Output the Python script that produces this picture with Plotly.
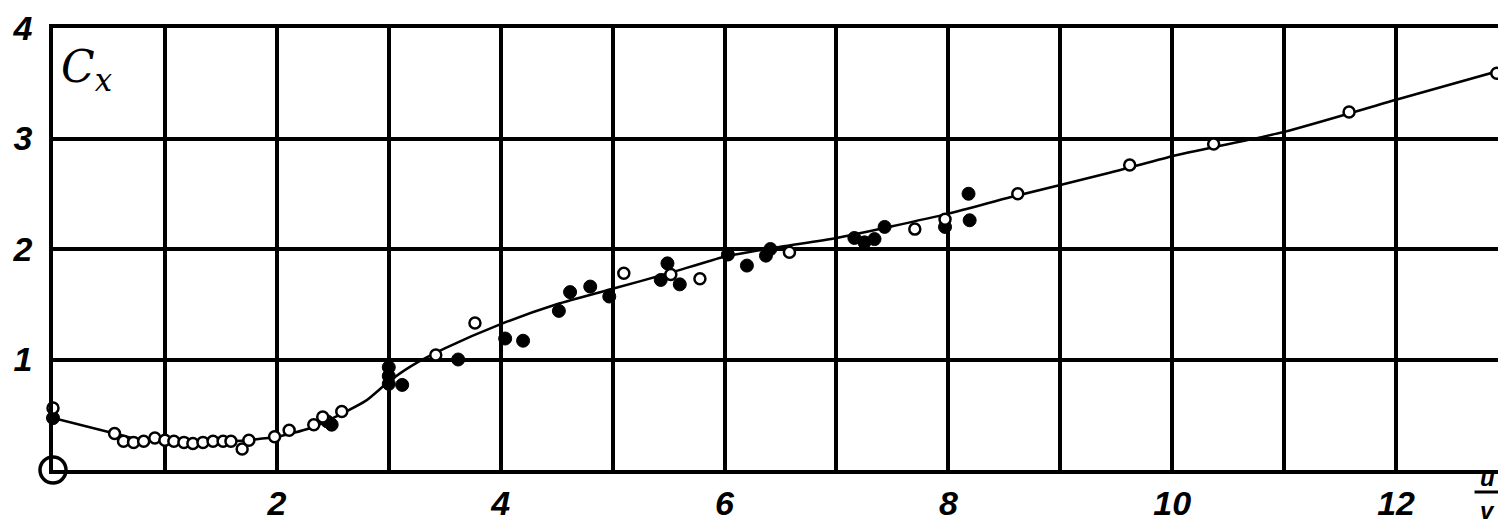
import plotly.graph_objects as go

# ---- data ----
open_x = [0.0, 0.55, 0.63, 0.72, 0.81, 0.91, 1.0, 1.08, 1.17, 1.25, 1.34, 1.43, 1.52, 1.59, 1.69, 1.75,
          1.98, 2.11, 2.33, 2.41, 2.58, 3.42, 3.77, 5.1, 5.52, 5.78, 6.58, 7.7, 7.97, 8.62, 9.62,
          10.37, 11.58, 12.9]
open_y = [0.56, 0.33, 0.26, 0.25, 0.26, 0.29, 0.27, 0.26, 0.25, 0.24, 0.25, 0.26, 0.26, 0.26, 0.19, 0.27,
          0.30, 0.36, 0.41, 0.48, 0.53, 1.04, 1.33, 1.78, 1.77, 1.73, 1.97, 2.18, 2.27, 2.50, 2.76,
          2.95, 3.24, 3.59]

filled_x = [0.0, 2.45, 2.49, 3.0, 3.0, 3.0, 3.12, 3.62, 4.04, 4.2, 4.52, 4.62, 4.8, 4.97,
            5.43, 5.49, 5.6, 6.03, 6.2, 6.37, 6.41, 7.16, 7.25, 7.34, 7.43, 7.97, 8.18, 8.19]
filled_y = [0.47, 0.44, 0.41, 0.93, 0.85, 0.78, 0.77, 1.0, 1.19, 1.17, 1.44, 1.61, 1.66, 1.57,
            1.72, 1.87, 1.68, 1.95, 1.85, 1.94, 2.0, 2.1, 2.06, 2.09, 2.2, 2.2, 2.5, 2.26]

curve_x = [0.0, 0.55, 0.8, 1.2, 1.6, 2.0, 2.3, 2.6, 2.8, 3.0, 3.2, 3.5, 4.0, 4.5, 5.0, 5.5,
           6.0, 6.5, 7.0, 8.0, 8.56, 9.44, 10.0, 11.0, 12.0, 13.05]
curve_y = [0.47, 0.33, 0.27, 0.26, 0.26, 0.30, 0.38, 0.52, 0.63, 0.80, 0.94, 1.10, 1.32, 1.50, 1.64, 1.78,
           1.93, 2.02, 2.10, 2.32, 2.47, 2.69, 2.84, 3.06, 3.35, 3.65]

origin_x = [0.0]
origin_y = [0.0]

x_tickvals = list(range(0, 14))
x_ticktext = ["", "", "2", "", "4", "", "6", "", "8", "", "10", "", "12", ""]
y_tickvals = [0, 1, 2, 3, 4]
y_ticktext = ["", "1", "2", "3", "4"]

fig = go.Figure()

fig.add_trace(go.Scatter(x=curve_x, y=curve_y, mode="lines",
                         line=dict(color="black", width=2.5, shape="spline", smoothing=0.6),
                         cliponaxis=False, hoverinfo="skip", showlegend=False))
fig.add_trace(go.Scatter(x=filled_x, y=filled_y, mode="markers",
                         marker=dict(symbol="circle", size=13, color="black",
                                     line=dict(color="black", width=1)),
                         cliponaxis=False, showlegend=False))
fig.add_trace(go.Scatter(x=open_x, y=open_y, mode="markers",
                         marker=dict(symbol="circle", size=11, color="white",
                                     line=dict(color="black", width=2.5)),
                         cliponaxis=False, showlegend=False))
fig.add_trace(go.Scatter(x=origin_x, y=origin_y, mode="markers",
                         marker=dict(symbol="circle", size=26, color="white",
                                     line=dict(color="black", width=3.5)),
                         cliponaxis=False, showlegend=False))

tick_font = dict(family="Liberation Sans", size=34, color="black", weight="bold", style="italic")

fig.update_xaxes(range=[0, 13], tickvals=x_tickvals, ticktext=x_ticktext,
                 showgrid=True, gridcolor="black", gridwidth=3.5,
                 showline=True, linecolor="black", linewidth=3.5, mirror=True,
                 zeroline=False, ticks="", tickfont=tick_font, ticklabelstandoff=0,
                 automargin=False, fixedrange=True)
fig.update_yaxes(range=[0, 4], tickvals=y_tickvals, ticktext=y_ticktext,
                 showgrid=True, gridcolor="black", gridwidth=3.5,
                 showline=True, linecolor="black", linewidth=3.5, mirror=True,
                 zeroline=False, ticks="", tickfont=tick_font, ticklabelstandoff=10,
                 ticklabeloverflow="allow", automargin=False, fixedrange=True)

fig.add_annotation(x=0.3, y=3.62, xref="x", yref="y", showarrow=False,
                   text="C<sub>x</sub>",
                   font=dict(family="DejaVu Serif", size=44, color="black", style="italic"))

# u / v fraction as axis title
frac_font = dict(family="Liberation Sans", size=24, color="black", weight="bold", style="italic")
fig.add_annotation(x=0.9925, y=-0.016, xref="paper", yref="paper", showarrow=False,
                   yanchor="middle", text="u", font=frac_font)
fig.add_annotation(x=0.9925, y=-0.092, xref="paper", yref="paper", showarrow=False,
                   yanchor="middle", text="v", font=frac_font)
fig.add_shape(type="line", xref="paper", yref="paper", x0=0.977, x1=1.003,
              y0=-0.05, y1=-0.05, line=dict(color="black", width=3))

fig.update_layout(width=1506, height=528,
                  margin=dict(l=45, r=6, t=20, b=66, autoexpand=False),
                  paper_bgcolor="white", plot_bgcolor="white",
                  showlegend=False)

fig.write_html("out.html")
